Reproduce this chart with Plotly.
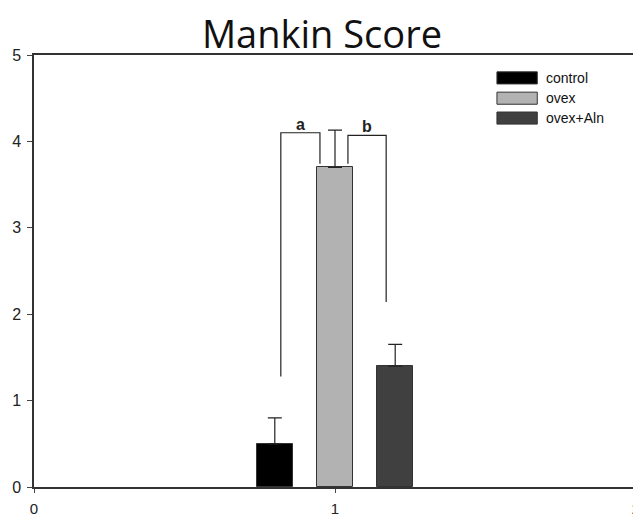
import plotly.graph_objects as go

# Data
groups = ["control", "ovex", "ovex+Aln"]
positions = [0.8, 1.0, 1.2]
means = [0.5, 3.7, 1.4]
errors_up = [0.3, 0.43, 0.25]
colors = ["#000000", "#b2b2b2", "#404040"]
x_ticks = [0, 1, 2]
y_ticks = [0, 1, 2, 3, 4, 5]

# significance brackets: (x_left, y_left_bottom, x_right, y_right_bottom, y_top, label)
brackets = [
    (0.82, 1.28, 0.95, 3.74, 4.10, "a"),
    (1.043, 3.74, 1.17, 2.14, 4.07, "b"),
]

fig = go.Figure()
for g, p, m, e, c in zip(groups, positions, means, errors_up, colors):
    fig.add_trace(go.Bar(
        x=[p], y=[m], width=0.12, name=g,
        marker=dict(color=c, line=dict(color="#333333", width=1)),
        error_y=dict(type="data", array=[e], arrayminus=[0], symmetric=False,
                     color="#222222", thickness=1.2, width=7),
        showlegend=False,
    ))

shapes = []
annotations = []
for xl, yl, xr, yr, yt, lab in brackets:
    shapes.append(dict(type="path", xref="x", yref="y",
                       path=f"M {xl},{yl} L {xl},{yt} L {xr},{yt} L {xr},{yr}",
                       line=dict(color="#222222", width=1.2)))
    annotations.append(dict(x=(xl + xr) / 2, y=yt, xref="x", yref="y", text="<b>" + lab + "</b>",
                            showarrow=False, yanchor="bottom", yshift=-2,
                            font=dict(family="Liberation Sans, Arial", size=16, color="#222222")))

# manual legend
leg_y = [0.947, 0.900, 0.854]
for g, c, ly in zip(groups, colors, leg_y):
    shapes.append(dict(type="rect", xref="paper", yref="paper",
                       x0=0.769, x1=0.836, y0=ly - 0.014, y1=ly + 0.014,
                       fillcolor=c, line=dict(color="#333333", width=1)))
    annotations.append(dict(x=0.847, y=ly, xref="paper", yref="paper", text=g,
                            showarrow=False, xanchor="left", yanchor="middle",
                            font=dict(family="Liberation Sans, Arial", size=14, color="#111111")))

fig.update_layout(
    width=633, height=506,
    margin=dict(l=26, r=5, t=47, b=27, autoexpand=False),
    paper_bgcolor="white", plot_bgcolor="white",
    title=dict(text="Mankin Score", x=0.496, xanchor="center", y=0.947, yanchor="middle",
               font=dict(family="Open Sans, Noto Sans", size=38, color="#111111")),
    shapes=shapes, annotations=annotations,
    bargap=0,
)
fig.update_xaxes(range=[0, 2], tickvals=x_ticks, ticks="outside", ticklen=4,
                 ticklabelstandoff=3, ticklabeloverflow="allow",
                 showline=True, linecolor="#333333", linewidth=1.5, mirror=True,
                 showgrid=False, zeroline=False, automargin=False,
                 tickfont=dict(family="Liberation Sans, Arial", size=15, color="#222222"))
fig.update_yaxes(range=[0, 5], tickvals=y_ticks, ticks="outside", ticklen=5,
                 ticklabelstandoff=3, ticklabeloverflow="allow",
                 showline=True, linecolor="#333333", linewidth=1.5, mirror=True,
                 showgrid=False, zeroline=False, automargin=False,
                 tickfont=dict(family="Liberation Sans, Arial", size=16, color="#222222"))

fig.write_html("out.html")
